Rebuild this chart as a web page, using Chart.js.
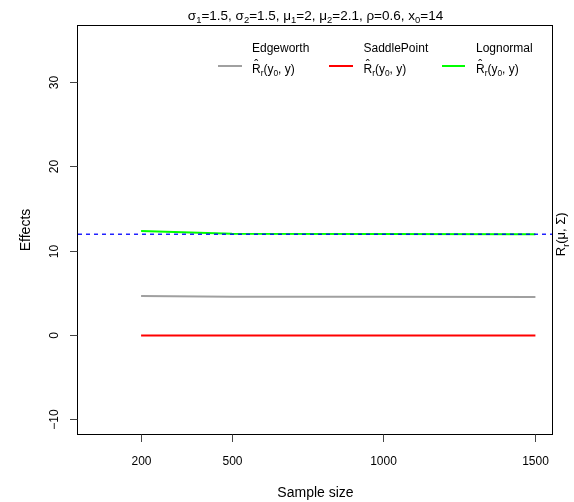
<!DOCTYPE html>
<html><head><meta charset="utf-8">
<script src="https://cdn.jsdelivr.net/npm/chart.js@4"></script>
<style>html,body{margin:0;padding:0;background:#fff}canvas{display:block}</style>
</head><body>
<canvas id="c" width="574" height="502"></canvas>
<script>
// ---- data ----
const sampleSizes = [200, 500, 1000, 1500];
const edgeworth   = [4.68, 4.60, 4.58, 4.56];
const saddlePoint = [0, 0, 0, 0];
const lognormal   = [12.38, 12.05, 12.02, 12.01];
const referenceValue = 12;
const xTicks = [200, 500, 1000, 1500];
const yTicks = [-10, 0, 10, 20, 30];
const xLimits = [-8, 1558];
const yLimits = [-11.8, 36.8];
const seriesNames = ['Edgeworth', 'SaddlePoint', 'Lognormal'];

const FAM = '"Liberation Sans", Arial, Helvetica, sans-serif';
const font = s => s + 'px ' + FAM;
const toXY = (xs, ys) => xs.map((v, i) => ({x: v, y: ys[i]}));

function richWidth(ctx, parts, size) {
  let w = 0;
  for (const p of parts) { ctx.font = font(p.sub ? size * 0.7 : size); w += ctx.measureText(p.t).width; }
  return w;
}
function drawRich(ctx, parts, x, y, size, align) {
  const w = richWidth(ctx, parts, size);
  let cx = align === 'center' ? x - w / 2 : (align === 'right' ? x - w : x);
  ctx.textAlign = 'left'; ctx.textBaseline = 'alphabetic';
  for (const p of parts) {
    const s = p.sub ? size * 0.7 : size;
    ctx.font = font(s);
    const pw = ctx.measureText(p.t).width;
    ctx.fillText(p.t, cx, y + (p.sub ? size * 0.28 : 0));
    if (p.hat) {
      ctx.font = font(size);
      ctx.textAlign = 'center';
      ctx.fillText('\u02C6', cx + pw / 2, y - size * 0.3);
      ctx.textAlign = 'left';
    }
    cx += pw;
  }
}
const estimatorLabel = [{t:'R', hat:true},{t:'r', sub:true},{t:'(y'},{t:'0', sub:true},{t:', y)'}];
const titleParts = [
  {t:'σ'},{t:'1',sub:true},{t:'=1.5, σ'},{t:'2',sub:true},{t:'=1.5, μ'},{t:'1',sub:true},
  {t:'=2, μ'},{t:'2',sub:true},{t:'=2.1, ρ=0.6, x'},{t:'0',sub:true},{t:'=14'}
];
const rightLabel = [{t:'R'},{t:'r',sub:true},{t:'(μ, Σ)'}];

const decor = {
  id: 'decor',
  afterDraw(chart) {
    const {ctx, chartArea: a, scales: {x, y}} = chart;
    ctx.save();
    ctx.fillStyle = '#000';
    ctx.strokeStyle = '#000';
    ctx.lineWidth = 1;
    // box
    ctx.strokeRect(a.left - 0.5, a.top + 0.5, a.right - a.left, a.bottom - a.top - 1);
    // x ticks
    ctx.strokeStyle = '#444';
    ctx.font = font(12);
    ctx.textAlign = 'center'; ctx.textBaseline = 'alphabetic';
    for (const v of xTicks) {
      const px = Math.round(x.getPixelForValue(v) - 0.5) + 0.5;
      ctx.beginPath(); ctx.moveTo(px, a.bottom - 0.5); ctx.lineTo(px, a.bottom + 7); ctx.stroke();
      ctx.fillText(String(v), px, 464.5);
    }
    // y ticks
    for (const v of yTicks) {
      const py = Math.round(y.getPixelForValue(v) - 0.5) + 0.5;
      ctx.beginPath(); ctx.moveTo(a.left - 0.5, py); ctx.lineTo(a.left - 8, py); ctx.stroke();
      ctx.save();
      ctx.translate(57.5, py); ctx.rotate(-Math.PI / 2);
      ctx.font = font(12); ctx.textAlign = 'center'; ctx.textBaseline = 'alphabetic';
      ctx.fillText(v < 0 ? '\u2212' + Math.abs(v) : String(v), 0, 0);
      ctx.restore();
    }
    // axis titles
    const cxm = (a.left + a.right) / 2, cym = (a.top + a.bottom) / 2;
    ctx.font = font(14); ctx.textAlign = 'center'; ctx.textBaseline = 'alphabetic';
    ctx.fillText('Sample size', cxm, 497);
    ctx.save(); ctx.translate(30, cym); ctx.rotate(-Math.PI / 2);
    ctx.fillText('Effects', 0, 0); ctx.restore();
    // title
    drawRich(ctx, titleParts, cxm, 19.5, 13.5, 'center');
    // right label
    ctx.save(); ctx.translate(565, y.getPixelForValue(referenceValue)); ctx.rotate(-Math.PI / 2);
    drawRich(ctx, rightLabel, 0, 0, 13, 'center'); ctx.restore();
    // legend
    const legendItems = [
      {name: seriesNames[0], color: chart.data.datasets[1].borderColor, x0: 218, x1: 242, tx: 252},
      {name: seriesNames[1], color: chart.data.datasets[2].borderColor, x0: 329, x1: 353, tx: 363.5},
      {name: seriesNames[2], color: chart.data.datasets[3].borderColor, x0: 442, x1: 465, tx: 476}
    ];
    for (const it of legendItems) {
      ctx.strokeStyle = it.color; ctx.lineWidth = 2;
      ctx.beginPath(); ctx.moveTo(it.x0, 66); ctx.lineTo(it.x1, 66); ctx.stroke();
      ctx.fillStyle = '#000';
      ctx.font = font(12); ctx.textAlign = 'left'; ctx.textBaseline = 'alphabetic';
      ctx.fillText(it.name, it.tx, 51.5);
      drawRich(ctx, estimatorLabel, it.tx, 72.5, 12, 'left');
    }
    ctx.restore();
  }
};

new Chart(document.getElementById('c'), {
  type: 'line',
  data: {
    datasets: [
      {label: 'reference', data: toXY(xLimits, [referenceValue, referenceValue]),
       borderColor: '#0000FF', borderWidth: 1.3, borderDash: [4, 4], pointRadius: 0, fill: false},
      {label: seriesNames[0], data: toXY(sampleSizes, edgeworth),
       borderColor: '#A0A0A0', borderWidth: 2, pointRadius: 0, tension: 0, fill: false},
      {label: seriesNames[1], data: toXY(sampleSizes, saddlePoint),
       borderColor: '#FF0000', borderWidth: 2, pointRadius: 0, tension: 0, fill: false},
      {label: seriesNames[2], data: toXY(sampleSizes, lognormal),
       borderColor: '#00FF00', borderWidth: 2, pointRadius: 0, tension: 0, fill: false}
    ]
  },
  options: {
    responsive: false,
    devicePixelRatio: 1,
    animation: false,
    events: [],
    layout: {padding: {left: 78, right: 21, top: 25, bottom: 67}},
    plugins: {legend: {display: false}, tooltip: {enabled: false}},
    scales: {
      x: {type: 'linear', display: false, min: xLimits[0], max: xLimits[1]},
      y: {type: 'linear', display: false, min: yLimits[0], max: yLimits[1]}
    }
  },
  plugins: [decor]
});
</script>
</body></html>
